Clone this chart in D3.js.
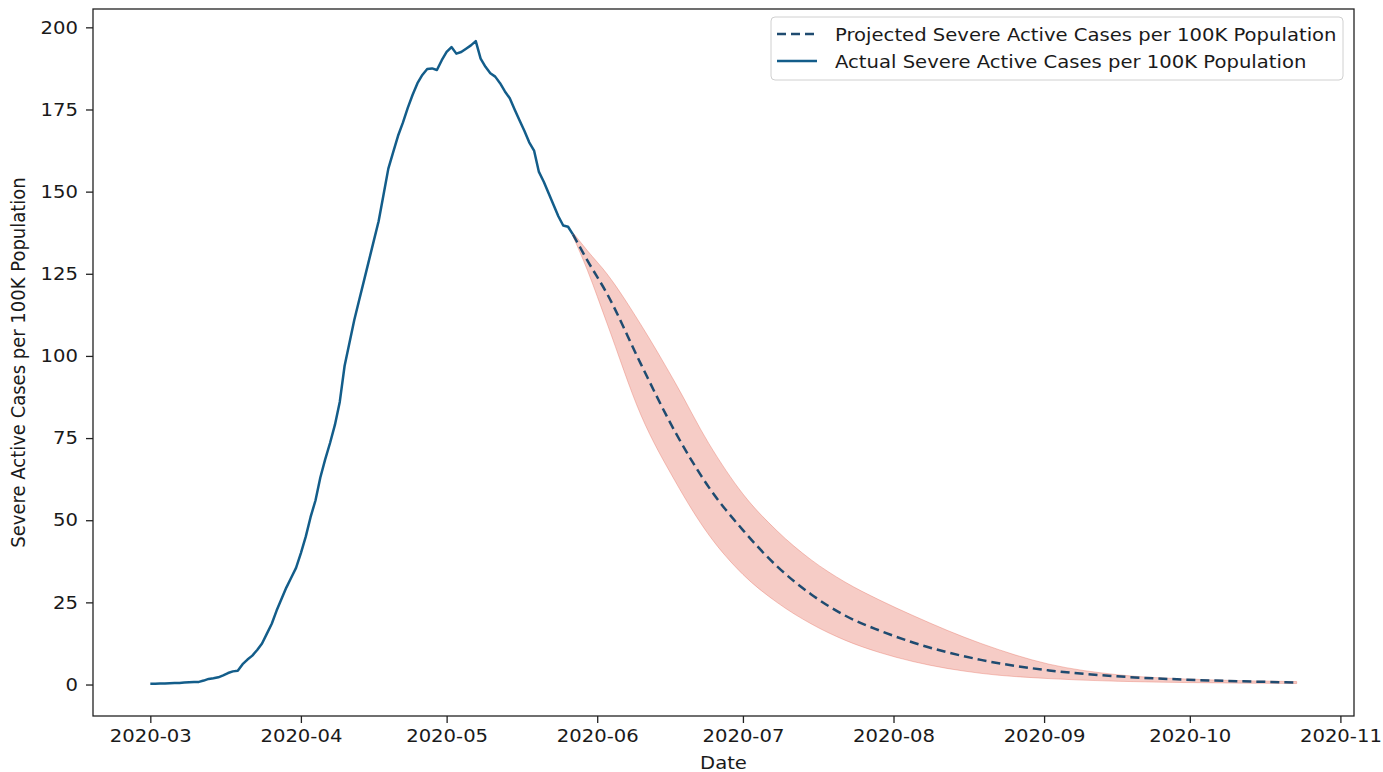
<!DOCTYPE html>
<html>
<head>
<meta charset="utf-8">
<script src="https://cdn.jsdelivr.net/npm/d3@7"></script>
<style>
  body { margin: 0; background: #fff; }
  svg text { font-family: "DejaVu Sans", sans-serif; fill: #1a1a1a; }
</style>
</head>
<body>
<svg id="chart" width="1383" height="772"></svg>
<script>
// actual series, one value per day starting 2020-03-01
let actualStart = '2020-03-01';
let actualValues = [
  0.2, 0.2, 0.3, 0.3, 0.4, 0.5, 0.5, 0.6, 0.7, 0.8,
  0.8, 1.2, 1.7, 1.9, 2.2, 2.8, 3.5, 4.0, 4.2, 6.2,
  7.6, 8.8, 10.5, 12.5, 15.5, 18.5, 22.5, 26, 29.5, 32.5,
  35.5, 40, 45, 51, 56, 63, 68.5, 73.5, 79, 86,
  97, 104, 111, 117, 123, 129, 135, 141, 149, 157,
  162, 167, 171, 175.5, 179.5, 183, 185.5, 187.3, 187.5, 187,
  190, 192.5, 194, 192, 192.5, 193.5, 194.5, 195.8, 190.5, 188,
  186, 185, 183, 180.5, 178.4, 175, 171.7, 168.5, 165, 162.5,
  156, 153, 149.5, 146, 142.5, 139.7, 139.3, 137
];

// projection + band, read at sample dates
let projDates = ['2020-05-27', '2020-05-30', '2020-06-03', '2020-06-10', '2020-06-17', '2020-06-24',
  '2020-07-01', '2020-07-08', '2020-07-15', '2020-07-22', '2020-07-29', '2020-08-05',
  '2020-08-19', '2020-09-02', '2020-09-16', '2020-09-30', '2020-10-14', '2020-10-23'];
let projected = [137, 129, 119, 97.5, 77, 60, 47, 36, 27.5, 21, 16.5, 12.8, 7.5, 4.3, 2.5, 1.5, 0.9, 0.6];
let upper     = [137.5, 132, 125, 109.5, 92, 73.3, 58, 46.8, 38, 31.2, 25.8, 21, 12.5, 6.2, 3.0, 1.7, 1.1, 0.9];
let lower     = [136.5, 126, 110, 82, 62, 45.5, 33.5, 25, 18.5, 13.5, 9.8, 7, 3.4, 1.8, 1.0, 0.6, 0.4, 0.3];

let yTicks = [0, 25, 50, 75, 100, 125, 150, 175, 200];
let legendLabels = ['Projected Severe Active Cases per 100K Population',
                    'Actual Severe Active Cases per 100K Population'];

let parse = d3.timeParse('%Y-%m-%d');
let t0 = parse(actualStart);
let actual = actualValues.map((v, i) => ({ date: d3.timeDay.offset(t0, i), v: v }));
let proj = projDates.map((d, i) => ({ date: parse(d), v: projected[i], hi: upper[i], lo: lower[i] }));

let svg = d3.select('#chart');
let mLeft = 93, mRight = 1354, mTop = 9, mBottom = 716;
let fs = 18;
let sx = 1.09; // reference text is a bit wider than tall

// matplotlib-like 5% margins
let allDates = actual.map(d => d.date).concat(proj.map(d => d.date));
let [dmin, dmax] = d3.extent(allDates);
let dpad = (dmax - dmin) * 0.05;
let x = d3.scaleTime()
  .domain([new Date(+dmin - dpad), new Date(+dmax + dpad)])
  .range([mLeft, mRight]);

let allV = actualValues.concat(upper, lower);
let [vmin, vmax] = d3.extent(allV);
let vpad = (vmax - vmin) * 0.05;
let y = d3.scaleLinear().domain([vmin - vpad, vmax + vpad]).range([mBottom, mTop]);

// band
let area = d3.area()
  .x(d => x(d.date)).y0(d => y(d.lo)).y1(d => y(d.hi))
  .curve(d3.curveMonotoneX);
svg.append('path').datum(proj)
  .attr('d', area)
  .attr('fill', '#e2604f').attr('fill-opacity', 0.32)
  .attr('stroke', '#e2604f').attr('stroke-opacity', 0.35).attr('stroke-width', 1);

let line = d3.line().x(d => x(d.date)).y(d => y(d.v));

svg.append('path').datum(actual)
  .attr('d', line)
  .attr('fill', 'none').attr('stroke', '#135d8a').attr('stroke-width', 2.5)
  .attr('stroke-linejoin', 'round');

svg.append('path').datum(proj)
  .attr('d', line.curve(d3.curveMonotoneX))
  .attr('fill', 'none').attr('stroke', '#1f4b70').attr('stroke-width', 2.5)
  .attr('stroke-dasharray', '9,5');

// axes
let xAxis = svg.append('g').attr('transform', `translate(0,${mBottom})`)
  .call(d3.axisBottom(x).ticks(d3.timeMonth.every(1)).tickFormat(d3.timeFormat('%Y-%m'))
    .tickSize(7).tickPadding(6).tickSizeOuter(0));
let yAxis = svg.append('g').attr('transform', `translate(${mLeft},0)`)
  .call(d3.axisLeft(y).tickValues(yTicks).tickSize(7).tickPadding(8).tickSizeOuter(0));

[xAxis, yAxis].forEach(g => {
  g.select('.domain').remove();
  g.selectAll('line').attr('stroke', '#222').attr('stroke-width', 1.3);
  g.selectAll('text').attr('font-size', fs).attr('fill', '#1a1a1a');
});
// stretch tick labels horizontally around their anchor
xAxis.selectAll('.tick text').attr('transform', `scale(${sx},1)`);
yAxis.selectAll('.tick text').each(function() {
  let t = d3.select(this);
  let xx = +t.attr('x');
  t.attr('transform', `translate(${xx},0) scale(${sx},1)`).attr('x', 0);
});

svg.append('rect')
  .attr('x', mLeft).attr('y', mTop).attr('width', mRight - mLeft).attr('height', mBottom - mTop)
  .attr('fill', 'none').attr('stroke', '#222').attr('stroke-width', 1.3);

// axis labels
svg.append('text')
  .attr('transform', `translate(${(mLeft + mRight) / 2},769) scale(${sx},1)`)
  .attr('text-anchor', 'middle').attr('font-size', fs).text('Date');
svg.append('text')
  .attr('transform', `translate(25,${(mTop + mBottom) / 2}) rotate(-90) scale(1,${sx})`)
  .attr('text-anchor', 'middle').attr('font-size', fs).text('Severe Active Cases per 100K Population');

// legend
let lg = svg.append('g');
lg.append('rect')
  .attr('x', 771).attr('y', 17).attr('width', 572).attr('height', 63).attr('rx', 4)
  .attr('fill', '#fff').attr('fill-opacity', 0.8).attr('stroke', '#d0d0d0');
let legendStyles = [
  { color: '#1f4b70', dash: '9,5' },
  { color: '#135d8a', dash: null }
];
legendLabels.forEach((lab, i) => {
  let yy = 34 + i * 27;
  lg.append('line')
    .attr('x1', 777).attr('x2', 817).attr('y1', yy).attr('y2', yy)
    .attr('stroke', legendStyles[i].color).attr('stroke-width', 2.5)
    .attr('stroke-dasharray', legendStyles[i].dash);
  lg.append('text')
    .attr('transform', `translate(835,${yy + 6.5}) scale(${sx},1)`)
    .attr('font-size', fs).text(lab);
});
</script>
</body>
</html>
